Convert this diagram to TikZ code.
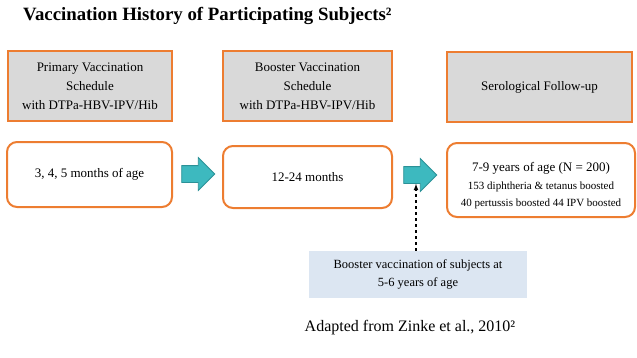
\documentclass[tikz,border=0pt]{standalone}
\usepackage{fontspec}
\setmainfont{Liberation Serif}
\usepackage{tikz}
\usetikzlibrary{shapes.arrows}

\definecolor{boxorange}{HTML}{ED7D31}
\definecolor{boxgray}{HTML}{D9D9D9}
\definecolor{arrteal}{HTML}{3DB9BF}
\definecolor{arrtealdk}{HTML}{2B9197}
\definecolor{noteblue}{HTML}{DCE6F2}

\tikzset{
  stagebox/.style={draw=boxorange, line width=2pt, fill=boxgray, inner sep=0pt,
    align=center, font=\fontsize{13}{19}\selectfont},
  agebox/.style={draw=boxorange, line width=2pt, fill=white, rounded corners=10pt,
    inner sep=0pt, align=center, font=\fontsize{13}{19}\selectfont},
  steparrow/.style={single arrow, draw=arrtealdk, line width=0.8pt, fill=arrteal,
    minimum height=33pt, inner xsep=0pt, inner ysep=8pt, text height=0pt, text depth=0pt,
    single arrow head extend=8pt}
}

\begin{document}
\begin{tikzpicture}[x=1pt, y=-1pt]
  \useasboundingbox (0,0) rectangle (637,357);
  \node[anchor=base west, inner sep=0pt, font=\fontsize{18.8}{20}\selectfont\bfseries] (title) at (23,20)
    {Vaccination History of Participating Subjects²};

  % stages
  \node[stagebox, minimum width=164pt, minimum height=70pt] (prim) at (90,86)
    {Primary Vaccination\\Schedule\\with DTPa-HBV-IPV/Hib};
  \node[stagebox, minimum width=169pt, minimum height=70pt] (boost) at (307.5,86)
    {Booster Vaccination\\Schedule\\with DTPa-HBV-IPV/Hib};
  \node[stagebox, minimum width=185pt, minimum height=70pt] (sero) at (539.5,87)
    {Serological Follow-up};

  % ages
  \node[agebox, minimum width=165pt, minimum height=65pt] (age1) at (89.5,174.5)
    {3, 4, 5 months of age};
  \node[agebox, minimum width=169pt, minimum height=62pt] (age2) at (307.5,177)
    {12-24 months};
  \node[agebox, minimum width=188pt, minimum height=74pt] (age3) at (541,180)
    {\raisebox{-5pt}[\height][\depth]{\begin{tabular}{@{}c@{}}
      {\fontsize{13}{18}\selectfont 7-9 years of age (N = 200)}\\[-1pt]
      {\fontsize{11}{13}\selectfont 153 diphtheria \& tetanus boosted}\\[-2pt]
      {\fontsize{11}{13}\selectfont 40 pertussis boosted 44 IPV boosted}
     \end{tabular}}};

  \node[steparrow] (arr1) at (194,174) {};
  \node[steparrow] (arr2) at (416,175) {};

  % extra booster
  \node[fill=noteblue, minimum width=218pt, minimum height=47pt, inner sep=0pt,
    align=center, font=\fontsize{12.5}{18}\selectfont] (note) at (418,274.5)
    {Booster vaccination of subjects at\\5-6 years of age};
  \draw[dashed, line width=1.2pt, -latex] (note.north -| arr2.south) -- (arr2.south);

  \node[font=\fontsize{16}{18}\selectfont] (src) at (410,328)
    {Adapted from Zinke et al., 2010²};
\end{tikzpicture}
\end{document}
